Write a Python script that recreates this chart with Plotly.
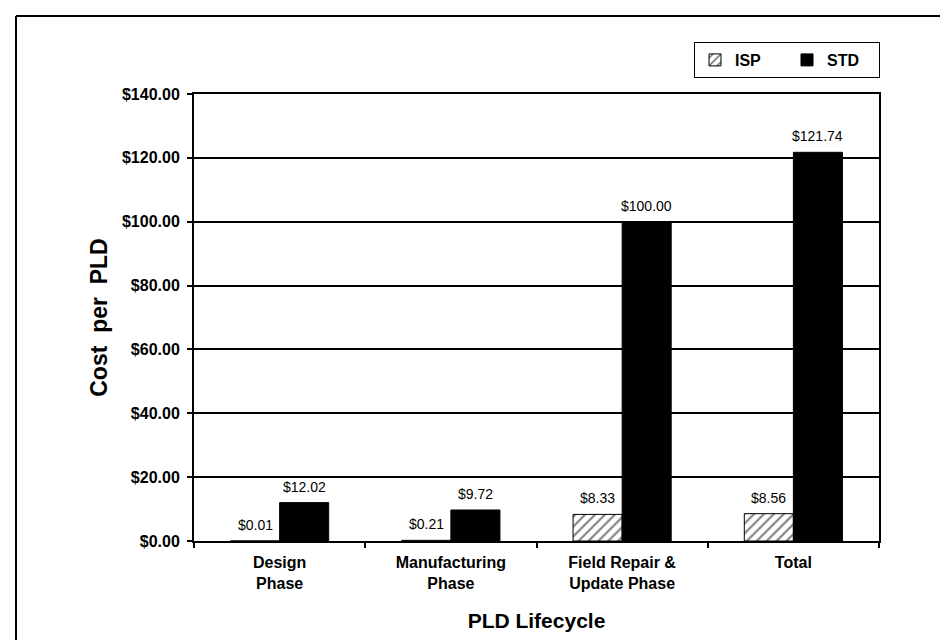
import plotly.graph_objects as go

categories = ["Design<br>Phase", "Manufacturing<br>Phase", "Field Repair &<br>Update Phase", "Total"]
isp_values = [0.01, 0.21, 8.33, 8.56]
std_values = [12.02, 9.72, 100.00, 121.74]
series_names = ["ISP", "STD"]
y_tick_values = [0, 20, 40, 60, 80, 100, 120, 140]
y_tick_labels = [f"${v:.2f}" for v in y_tick_values]

W, H = 948, 640
ML, MR, MT, MB = 186, 77, 86, 107
PW = W - ML - MR
PH = H - MT - MB
BARGAP = 0.427

FONT = "Liberation Sans, Arial, Helvetica, sans-serif"

fig = go.Figure()
fig.add_trace(go.Bar(
    x=categories, y=isp_values, name=series_names[0],
    marker=dict(color="white", line=dict(color="black", width=1),
                pattern=dict(shape="/", fgcolor="black", bgcolor="white", size=7, solidity=0.3)),
))
fig.add_trace(go.Bar(
    x=categories, y=std_values, name=series_names[1],
    marker=dict(color="black", line=dict(color="black", width=1)),
))

off = (1 - BARGAP) / 4
annotations = []
for i, (a, b) in enumerate(zip(isp_values, std_values)):
    for val, sh in ((a, -off), (b, off)):
        annotations.append(dict(
            x=i + sh, y=val, xref="x", yref="y", text=f"${val:.2f}",
            showarrow=False, yanchor="bottom", yshift=6,
            font=dict(family=FONT, size=14, color="black"),
        ))

# outer frame lines (top and left edges of the page border)
px = lambda v: (v - ML) / PW
py = lambda v: 1 - (v - MT) / PH
shapes = [
    dict(type="line", xref="paper", yref="paper", x0=px(8), x1=px(W + 5), y0=py(8), y1=py(8),
         line=dict(color="black", width=2)),
    dict(type="line", xref="paper", yref="paper", x0=px(8), x1=px(8), y0=py(8), y1=py(H + 5),
         line=dict(color="black", width=2)),
]

fig.update_layout(
    width=W, height=H,
    margin=dict(l=ML, r=MR, t=MT, b=MB, autoexpand=False),
    paper_bgcolor="white", plot_bgcolor="white",
    barmode="group", bargap=BARGAP, bargroupgap=0,
    font=dict(family=FONT, color="black"),
    showlegend=True,
    legend=dict(
        orientation="h", x=px(872), xanchor="right", y=py(34), yanchor="top",
        bordercolor="black", borderwidth=1, bgcolor="white",
        font=dict(family=FONT, size=16, color="black", weight="bold"),
        entrywidth=47, entrywidthmode="pixels",
        traceorder="normal",
    ),
    annotations=annotations,
    shapes=shapes,
    xaxis=dict(
        type="category", tickson="boundaries", ticks="outside", ticklen=5, tickwidth=2,
        tickcolor="black", showline=True, linecolor="black", linewidth=2, mirror=True,
        showgrid=False, automargin=False,
        tickfont=dict(family=FONT, size=16, color="black", weight="bold"),
        ticklabelstandoff=6,
        title=dict(text="PLD Lifecycle", standoff=22,
                   font=dict(family=FONT, size=21, color="black", weight="bold")),
    ),
    yaxis=dict(
        range=[0, 140], tickmode="array", tickvals=y_tick_values, ticktext=y_tick_labels,
        ticks="outside", ticklen=5, tickwidth=2, tickcolor="black",
        showline=True, linecolor="black", linewidth=2, mirror=True,
        showgrid=True, gridcolor="black", gridwidth=1.5, zeroline=False,
        automargin=False,
        tickfont=dict(family=FONT, size=16, color="black", weight="bold"),
        ticklabelstandoff=4,
        title=dict(text="Cost\u00a0\u00a0per\u00a0\u00a0PLD", standoff=8,
                   font=dict(family=FONT, size=23, color="black", weight="bold")),
    ),
)

fig.write_html("out.html")
